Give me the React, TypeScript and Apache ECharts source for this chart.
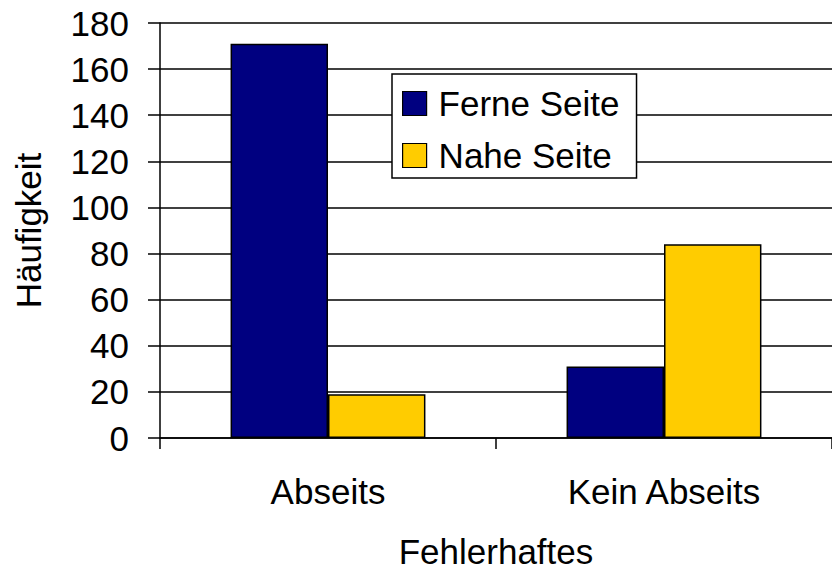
import React, { useEffect, useRef } from "react";
import * as echarts from "echarts";

const categories = ["Abseits", "Kein Abseits"];
const ferneSeite = [171, 31];
const naheSeite = [19, 84];
const seriesNames = ["Ferne Seite", "Nahe Seite"];
const yTicks = { min: 0, max: 180, interval: 20 };

const FONT = "'Liberation Sans', Arial, sans-serif";

export default function App() {
  const ref = useRef<HTMLDivElement>(null);
  useEffect(() => {
    if (!ref.current) return;
    const chart = echarts.init(ref.current, null, { renderer: "svg" });
    chart.setOption({
      animation: false,
      backgroundColor: "#fff",
      textStyle: { fontFamily: FONT, color: "#000" },
      grid: { left: 160, top: 23, width: 677, height: 415 },
      legend: {
        orient: "vertical",
        left: 392,
        top: 74,
        data: seriesNames,
        backgroundColor: "#fff",
        borderColor: "#000",
        borderWidth: 1.5,
        padding: [12, 17, 5, 10],
        itemWidth: 24,
        itemHeight: 24,
        itemGap: 17,
        icon: "rect",
        itemStyle: { borderColor: "#000", borderWidth: 1.2 },
        textStyle: { fontSize: 35, color: "#000", fontFamily: FONT, padding: [0, 0, 0, 7] },
      },
      xAxis: {
        type: "category",
        data: categories,
        name: "Fehlerhaftes",
        nameLocation: "middle",
        nameGap: 96,
        nameTextStyle: { fontSize: 35, color: "#000", fontFamily: FONT },
        axisLine: { lineStyle: { color: "#000", width: 1.5 } },
        axisTick: { show: true, alignWithLabel: false, length: 11, lineStyle: { color: "#000", width: 1.5 } },
        axisLabel: { fontSize: 35, color: "#000", margin: 36, fontFamily: FONT },
        splitLine: { show: false },
      },
      yAxis: {
        type: "value",
        min: yTicks.min,
        max: yTicks.max,
        interval: yTicks.interval,
        name: "Häufigkeit",
        nameLocation: "middle",
        nameGap: 114,
        nameTextStyle: { fontSize: 35, color: "#000", fontFamily: FONT },
        axisLine: { show: true, lineStyle: { color: "#000", width: 1.5 } },
        axisTick: { show: true, inside: false, length: 12, lineStyle: { color: "#000", width: 1.5 } },
        axisLabel: { fontSize: 35, color: "#000", margin: 31, fontFamily: FONT },
        splitLine: { show: true, lineStyle: { color: "#000", width: 1.5 } },
      },
      series: [
        {
          name: seriesNames[0],
          type: "bar",
          data: ferneSeite,
          barGap: "0%",
          barCategoryGap: "42%",
          itemStyle: { color: "#000080", borderColor: "#000", borderWidth: 1.5 },
        },
        {
          name: seriesNames[1],
          type: "bar",
          data: naheSeite,
          barGap: "0%",
          barCategoryGap: "42%",
          itemStyle: { color: "#FFCC00", borderColor: "#000", borderWidth: 1.5 },
        },
      ],
    });
    return () => chart.dispose();
  }, []);
  return (
    <div
      ref={ref}
      style={{ position: "fixed", left: 0, top: 0, width: 832, height: 574 }}
    />
  );
}
